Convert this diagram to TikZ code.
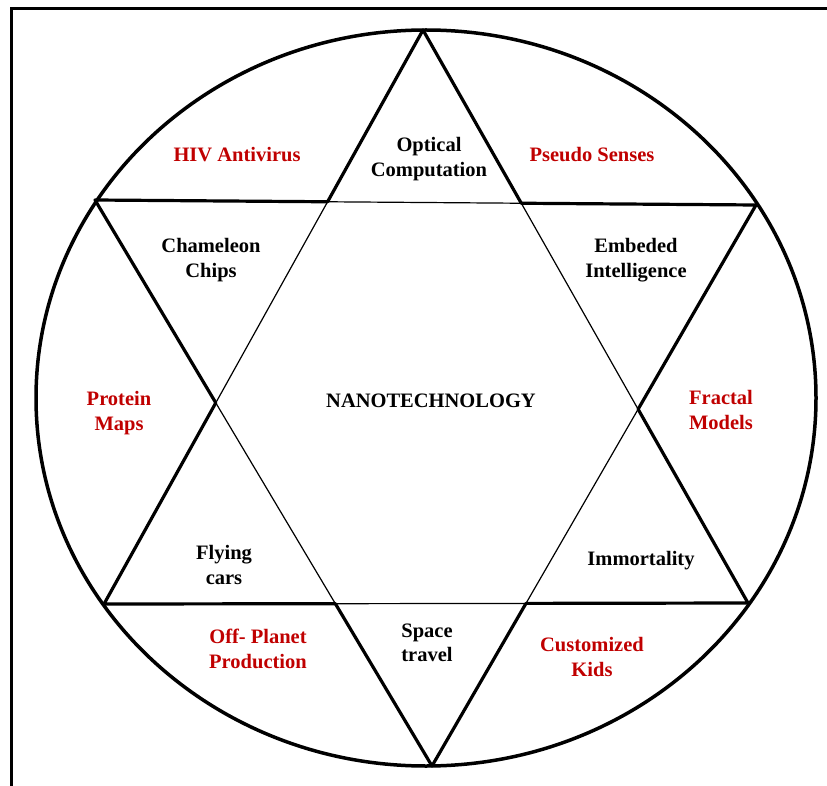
\documentclass[tikz,border=0pt]{standalone}
\usepackage{fontspec}
\setmainfont{Liberation Serif}
\definecolor{tred}{HTML}{C00000}
\begin{document}
\begin{tikzpicture}[x=1pt,y=-1pt,
  lbl/.style={font=\fontsize{20.5}{24.5}\selectfont\bfseries, align=center, inner sep=0pt},
  rlbl/.style={lbl, text=tred},
  outer/.style={line width=3.2pt, line cap=round, line join=round},
  inner/.style={line width=1.2pt}]
\useasboundingbox (0,0) rectangle (827,786);
% frame
\draw[line width=3pt] (11,786) -- (11,9) -- (827,9);
% circle
\draw[line width=3.5pt] (426,398) ellipse [x radius=390, y radius=368];
% vertices
\coordinate (A) at (423,30);
\coordinate (B) at (104,604);
\coordinate (C) at (748,603);
\coordinate (D) at (95,200);
\coordinate (E) at (756,205);
\coordinate (F) at (432,766);
\coordinate (P1) at (intersection of A--B and D--E);
\coordinate (P2) at (intersection of A--C and D--E);
\coordinate (P3) at (intersection of A--B and D--F);
\coordinate (P4) at (intersection of B--C and D--F);
\coordinate (P5) at (intersection of B--C and E--F);
\coordinate (P6) at (intersection of A--C and E--F);
% star points
\draw[outer] (P1) -- (A) -- (P2);
\draw[outer] (P1) -- (D) -- (P3);
\draw[outer] (P3) -- (B) -- (P4);
\draw[outer] (P4) -- (F) -- (P5);
\draw[outer] (P5) -- (C) -- (P6);
\draw[outer] (P6) -- (E) -- (P2);
% hexagon
\draw[inner] (P1) -- (P2) -- (P6) -- (P5) -- (P4) -- (P3) -- cycle;
% labels
\node[lbl] (opt) at (429,159) {Optical\\Computation};
\node[rlbl] (hiv) at (237,155) {HIV Antivirus};
\node[rlbl] (pse) at (592,155) {Pseudo Senses};
\node[lbl] (cha) at (211,260) {Chameleon\\Chips};
\node[lbl] (emb) at (636,260) {Embeded\\Intelligence};
\node[rlbl] (pro) at (119,413) {Protein\\Maps};
\node[lbl] (nano) at (431,401) {NANOTECHNOLOGY};
\node[rlbl] (fra) at (721,410) {Fractal\\Models};
\node[lbl] (fly) at (224,565) {Flying\\cars};
\node[lbl] (imm) at (641,561) {Immortality};
\node[rlbl] (off) at (258,649) {Off- Planet\\Production};
\node[lbl] (spa) at (427,643) {Space\\travel};
\node[rlbl] (cus) at (592,657) {Customized\\Kids};
\end{tikzpicture}
\end{document}
